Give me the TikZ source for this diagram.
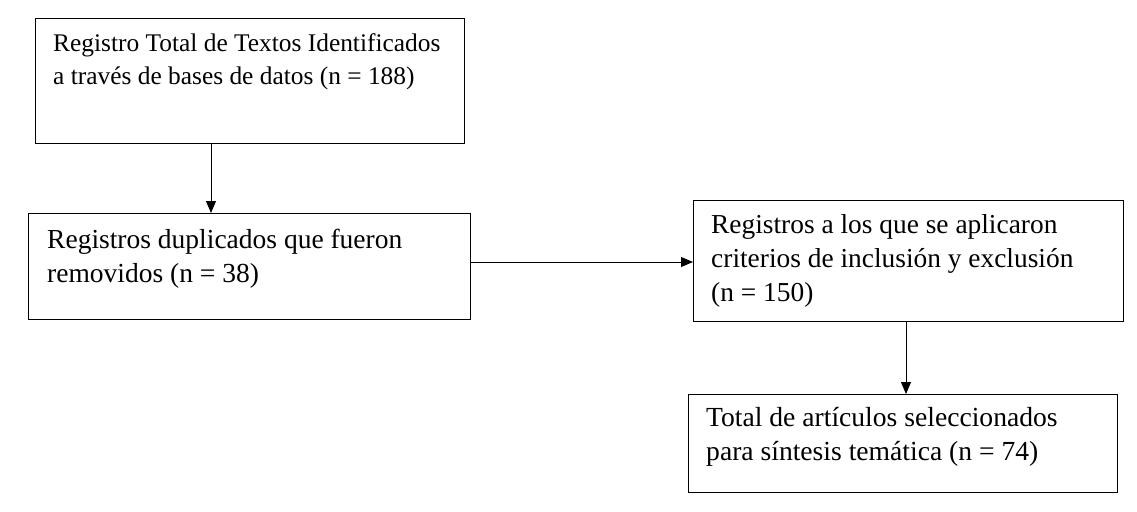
\documentclass[tikz,border=0pt]{standalone}
\usepackage{fontspec}
\setmainfont{Liberation Serif}
\usetikzlibrary{arrows.meta}
\begin{document}
\begin{tikzpicture}[x=1pt,y=-1pt,
  box/.style={draw,line width=1.3pt},
  txt/.style={anchor=north west,align=left,inner sep=0pt},
  arr/.style={-{Triangle[length=12pt,width=10pt]},line width=0.9pt}]
\useasboundingbox (0,0) rectangle (1137,511);
\node[box,minimum width=429pt,minimum height=125pt,anchor=north west] (b1) at (35,18) {};
\node[box,minimum width=442pt,minimum height=106pt,anchor=north west] (b2) at (28,213) {};
\node[box,minimum width=430pt,minimum height=121pt,anchor=north west] (b3) at (693,200) {};
\node[box,minimum width=429pt,minimum height=98pt,anchor=north west] (b4) at (688,394) {};
\node[txt,font=\fontsize{25.4}{33}\selectfont] (t1) at (53,33) {Registro Total de Textos Identificados\\a través de bases de datos (n = 188)};
\node[txt,font=\fontsize{27.5}{34}\selectfont] (t2) at (47,229) {Registros duplicados que fueron\\removidos (n = 38)};
\node[txt,font=\fontsize{27.4}{34}\selectfont] (t3) at (711,214) {Registros a los que se aplicaron\\criterios de inclusión y exclusión\\(n = 150)};
\node[txt,font=\fontsize{27.6}{34}\selectfont] (t4) at (706,407) {Total de artículos seleccionados\\para síntesis temática (n = 74)};
\coordinate (a1) at (211,143);
\coordinate (a2) at (211,213);
\draw[arr] (a1) -- (a2);
\coordinate (c1) at (470,262);
\coordinate (c2) at (693,262);
\draw[arr] (c1) -- (c2);
\coordinate (d1) at (906,321);
\coordinate (d2) at (906,394);
\draw[arr] (d1) -- (d2);
\end{tikzpicture}
\end{document}
